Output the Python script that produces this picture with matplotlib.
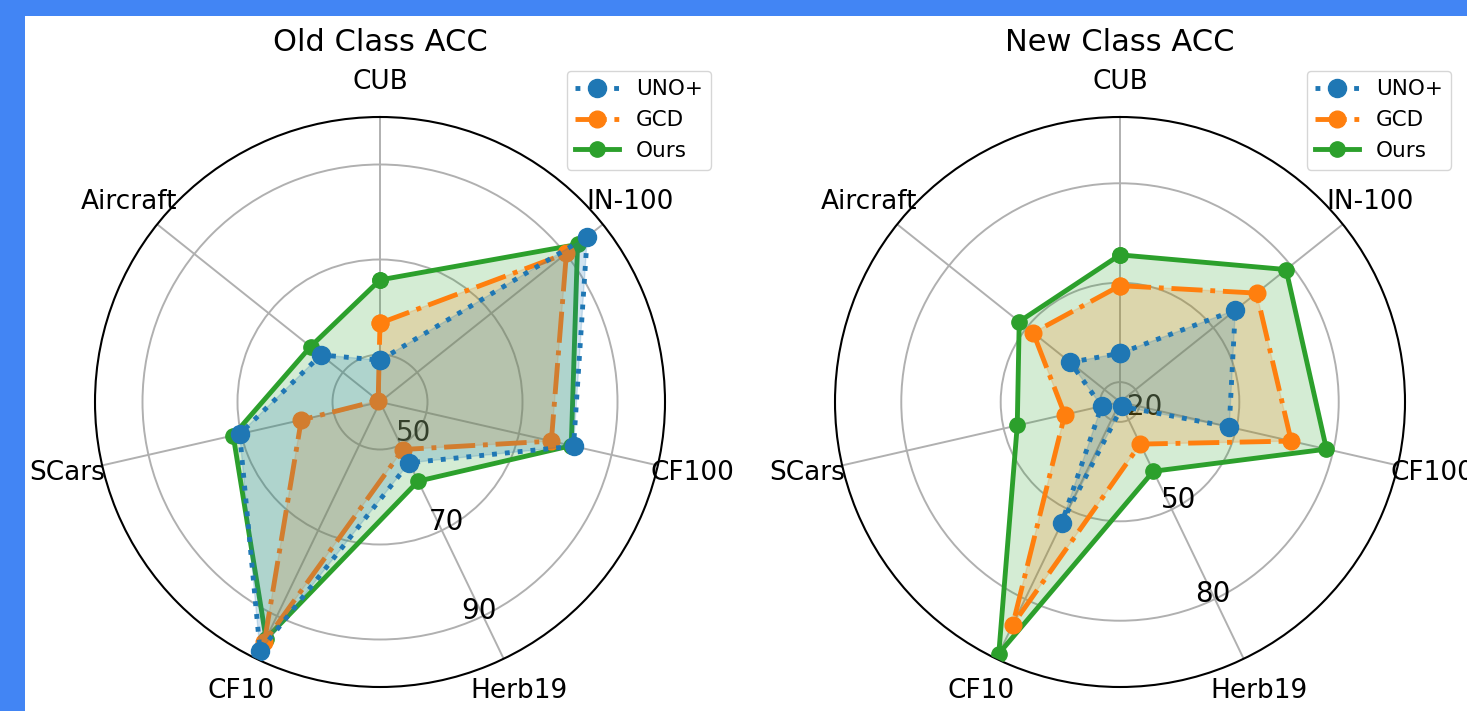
import numpy as np
import matplotlib
matplotlib.use('Agg')
import matplotlib.pyplot as plt
from matplotlib.patches import Rectangle

# datasets, clockwise from the top
labels = ['CUB', 'IN-100', 'CF100', 'Herb19', 'CF10', 'SCars', 'Aircraft']
methods = ['UNO+', 'GCD', 'Ours']

# accuracy on old classes
old_uno = [48.8, 95.8, 81.8, 54.2, 98.2, 70.3, 55.9]
old_gcd = [56.6, 90.2, 77.0, 51.1, 96.1, 57.0, 40.5]
old_ours = [65.7, 93.2, 81.3, 58.5, 95.3, 71.7, 58.7]

# accuracy on new classes
new_uno = [28.7, 58.5, 47.8, 15.5, 54.6, 19.7, 33.2]
new_gcd = [49.1, 66.7, 67.0, 28.1, 88.6, 31.1, 47.5]
new_ours = [58.4, 78.1, 77.9, 37.2, 98.3, 45.8, 52.9]

old_ticks = [50, 70, 90]
new_ticks = [20, 50, 80]

styles = {
    'UNO+': dict(color='C0', linestyle=':', markersize=13, zorder=5),
    'GCD': dict(color='C1', linestyle='-.', markersize=12, zorder=4),
    'Ours': dict(color='C2', linestyle='-', markersize=11, zorder=3),
}

angles = np.linspace(0, 2 * np.pi, len(labels), endpoint=False)


def radar(ax, title, series, rlim, rticks):
    ax.set_theta_offset(np.pi / 2)
    ax.set_theta_direction(-1)
    a = np.r_[angles, angles[:1]]
    for name, vals in zip(methods, series):
        st = styles[name]
        v = np.r_[vals, vals[:1]]
        ax.plot(a, v, marker='o', linewidth=3.5, label=name,
                color=st['color'], linestyle=st['linestyle'],
                markersize=st['markersize'], zorder=st['zorder'])
        ax.fill(a, v, color=st['color'], alpha=0.2, zorder=st['zorder'] - 0.5)
    ax.set_thetagrids(np.degrees(angles), labels, fontsize=19)
    ax.tick_params(axis='x', pad=15)
    ax.set_ylim(*rlim)
    ax.set_yticks(rticks)
    ax.set_yticklabels([str(t) for t in rticks], fontsize=20)
    ax.set_rlabel_position(160)
    ax.grid(True, color='#b0b0b0', linewidth=1.4)
    ax.spines['polar'].set_linewidth(1.5)
    ax.set_title(title, fontsize=22, pad=12.5)
    ax.legend(loc='upper right', bbox_to_anchor=(1.1, 1.1), fontsize=15.5)


W, H = 1467, 711
fig = plt.figure(figsize=(W / 100, H / 100), dpi=100, facecolor='#4285f4')
fig.add_artist(Rectangle((25 / W, 0), 1 - 25 / W, (H - 16) / H,
                         transform=fig.transFigure, facecolor='white',
                         edgecolor='none', zorder=-10))

size = 570
ax1 = fig.add_axes([95 / W, 24 / H, size / W, size / H], projection='polar')
ax2 = fig.add_axes([835 / W, 24 / H, size / W, size / H], projection='polar')

radar(ax1, 'Old Class ACC', [old_uno, old_gcd, old_ours], (40, 100), old_ticks)
radar(ax2, 'New Class ACC', [new_uno, new_gcd, new_ours], (14, 100), new_ticks)

fig.savefig('out.png', dpi=100, facecolor=fig.get_facecolor())
